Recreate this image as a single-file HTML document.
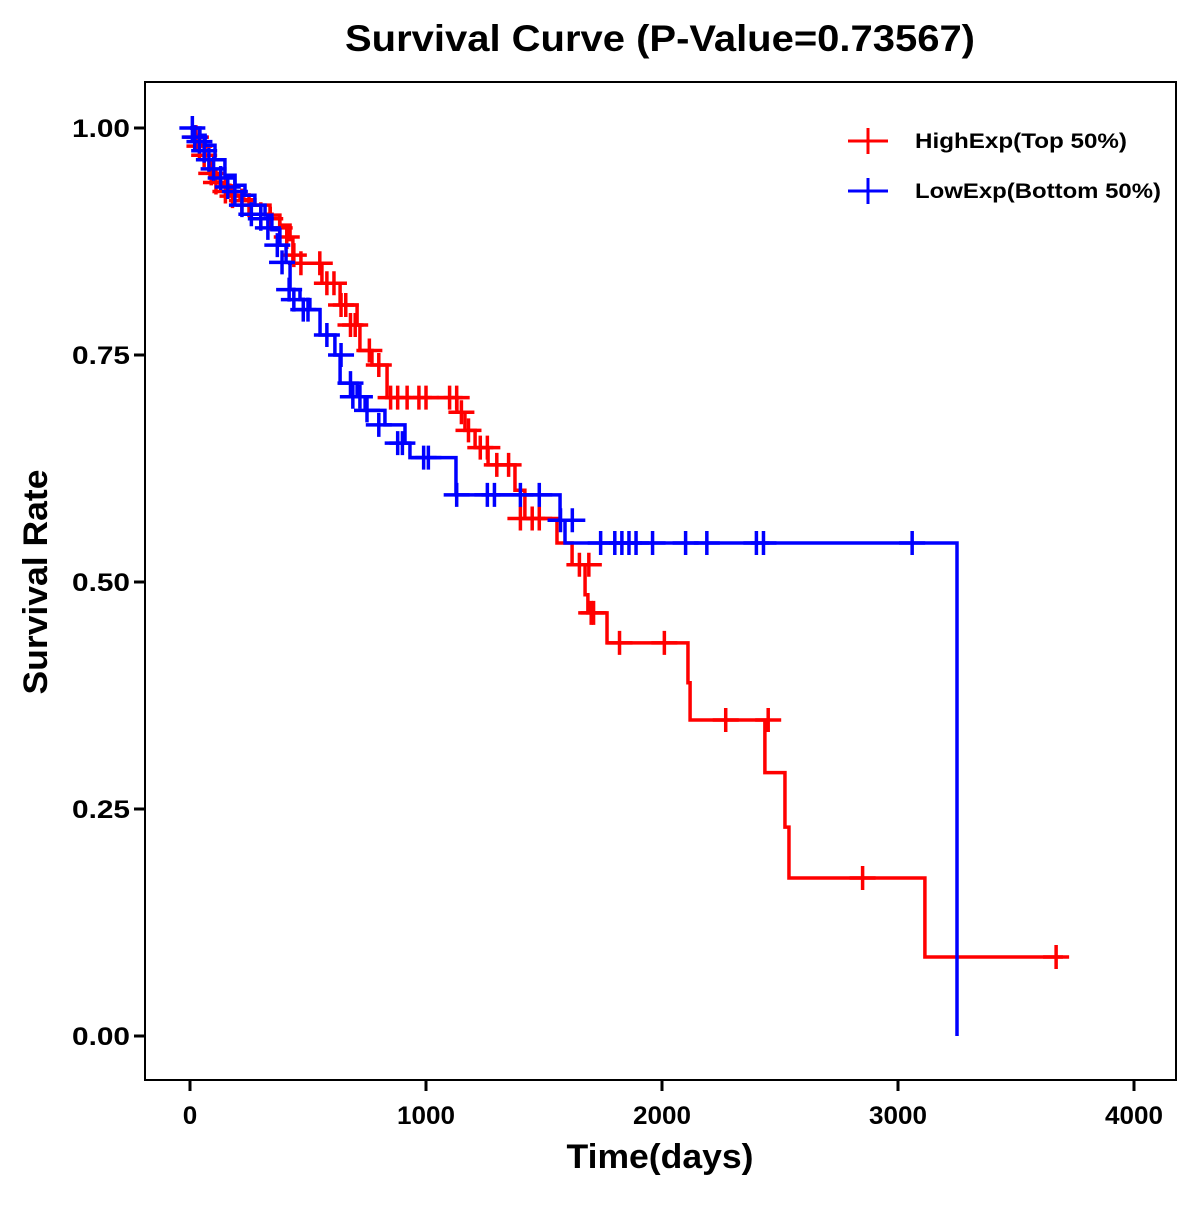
<!DOCTYPE html>
<html><head><meta charset="utf-8"><style>
body{margin:0;background:#fff;}
svg text{font-family:"Liberation Sans",Arial,sans-serif;font-weight:bold;fill:#000;}
</style></head><body>
<svg id="chart" width="1200" height="1200" viewBox="0 0 1200 1200" xmlns="http://www.w3.org/2000/svg">
<rect width="1200" height="1200" fill="#fff"/>
<text x="660" y="51" font-size="37" text-anchor="middle" textLength="630" lengthAdjust="spacingAndGlyphs">Survival Curve (P-Value=0.73567)</text>
<rect x="145" y="82" width="1031" height="998" fill="none" stroke="#000" stroke-width="2"/>
<g id="axes"></g>
<g id="series"></g>
<text x="660" y="1168" font-size="34" text-anchor="middle" textLength="187" lengthAdjust="spacingAndGlyphs">Time(days)</text>
<text transform="translate(47,582) rotate(-90)" font-size="34" text-anchor="middle" textLength="225" lengthAdjust="spacingAndGlyphs">Survival Rate</text>
<g>
<g>
<line x1="848" y1="141" x2="888" y2="141" stroke="#ff0000" stroke-width="3"/>
<line x1="868" y1="128" x2="868" y2="154" stroke="#ff0000" stroke-width="3"/>
<text x="915" y="148" font-size="21" textLength="212" lengthAdjust="spacingAndGlyphs">HighExp(Top 50%)</text>
</g>
<g>
<line x1="848" y1="191" x2="888" y2="191" stroke="#0000ff" stroke-width="3"/>
<line x1="868" y1="178" x2="868" y2="204" stroke="#0000ff" stroke-width="3"/>
<text x="915" y="198" font-size="21" textLength="246" lengthAdjust="spacingAndGlyphs">LowExp(Bottom 50%)</text>
</g>
</g>
</svg>
<script>
const xTicks=[0,1000,2000,3000,4000];
const yTicks=[0,0.25,0.5,0.75,1.0];
const yTickLabels=["0.00","0.25","0.50","0.75","1.00"];
const highTimes=[0,21,42,64,85,127,169,212,275,339,381,424,436,559,636,708,720,771,835,1131,1165,1208,1263,1377,1419,1555,1619,1674,1686,1767,2110,2119,2436,2521,2538,3114];
const highSurv=[1,0.992,0.981,0.965,0.948,0.937,0.926,0.921,0.915,0.904,0.893,0.877,0.851,0.829,0.805,0.783,0.755,0.739,0.703,0.687,0.667,0.648,0.629,0.601,0.570,0.543,0.519,0.486,0.466,0.433,0.389,0.348,0.290,0.230,0.174,0.087];
const highEnd=3699;
const highCensT=[25,40,60,90,110,150,180,220,250,300,340,380,410,440,470,550,580,610,640,660,680,700,760,800,850,880,920,970,1000,1100,1130,1150,1180,1230,1260,1300,1350,1400,1450,1480,1650,1690,1700,1710,1820,2010,2270,2450,2850,3670];
const highCensS=[0.99,0.98,0.97,0.95,0.94,0.93,0.925,0.92,0.915,0.905,0.9,0.89,0.88,0.86,0.851,0.851,0.829,0.829,0.805,0.805,0.783,0.783,0.755,0.739,0.703,0.703,0.703,0.703,0.703,0.703,0.703,0.687,0.667,0.648,0.648,0.629,0.629,0.570,0.570,0.570,0.519,0.519,0.466,0.466,0.433,0.433,0.348,0.348,0.174,0.087];
const lowTimes=[0,42,64,106,148,191,233,275,318,347,381,407,424,466,508,551,614,636,708,742,826,911,932,1127,1568,1589,3250];
const lowSurv=[1,0.992,0.981,0.965,0.948,0.937,0.926,0.915,0.904,0.888,0.871,0.852,0.822,0.811,0.800,0.772,0.750,0.719,0.704,0.689,0.673,0.653,0.637,0.596,0.568,0.543,0];
const lowEnd=3250;
const lowCensT=[10,20,40,60,80,100,130,160,190,220,260,300,330,370,390,420,440,480,500,580,640,680,690,720,750,800,880,900,990,1010,1130,1260,1290,1400,1480,1570,1620,1740,1800,1830,1860,1890,1960,2100,2190,2400,2430,3060];
const lowCensS=[1.0,0.99,0.985,0.975,0.965,0.955,0.945,0.935,0.93,0.915,0.905,0.9,0.89,0.871,0.852,0.822,0.811,0.8,0.8,0.772,0.75,0.719,0.704,0.704,0.689,0.673,0.653,0.653,0.637,0.637,0.596,0.596,0.596,0.596,0.596,0.568,0.568,0.543,0.543,0.543,0.543,0.543,0.543,0.543,0.543,0.543,0.543,0.543];

const X=t=>190+t*0.236;
const Y=s=>1036-s*908;
const NS="http://www.w3.org/2000/svg";
function mk(tag,attrs,parent){const e=document.createElementNS(NS,tag);for(const k in attrs)e.setAttribute(k,attrs[k]);parent.appendChild(e);return e;}
const axes=document.getElementById('axes');
xTicks.forEach(t=>{
  const l=mk('line',{x1:X(t),x2:X(t),y1:1081,y2:1091,stroke:'#000','stroke-width':3},axes);
  
  
  const s=String(t);
  const tx=mk('text',{x:X(t),y:1124,'font-size':25,'text-anchor':'middle',textLength:s.length*14.5,lengthAdjust:'spacingAndGlyphs'},axes);
  tx.textContent=s;
  
  
});
yTicks.forEach((v,i)=>{
  const l=mk('line',{x1:134,x2:144,y1:Y(v),y2:Y(v),stroke:'#000','stroke-width':3},axes);
  
  
  const tx=mk('text',{x:130,y:Y(v)+9,'font-size':25,'text-anchor':'end',textLength:58,lengthAdjust:'spacingAndGlyphs'},axes);
  tx.textContent=yTickLabels[i];
  
  
});
const series=document.getElementById('series');
function draw(times,surv,end,ct,cs,color,name){
  const g=mk('g',{},series);
  
  
  let d='M'+X(times[0])+','+Y(surv[0]);
  for(let i=1;i<times.length;i++){d+=' H'+X(times[i])+' V'+Y(surv[i]);}
  d+=' H'+X(end);
  const p=mk('path',{d:d,fill:'none',stroke:color,'stroke-width':3.5},g);
  
  
  for(let i=0;i<ct.length;i++){
    const x=X(ct[i]),y=Y(cs[i]);
    const c=mk('path',{d:`M${x-13},${y} H${x+13} M${x},${y-12} V${y+12}`,stroke:color,'stroke-width':3.5,fill:'none'},g);
    
    
  }
}
draw(highTimes,highSurv,highEnd,highCensT,highCensS,'#ff0000','high-exp');
draw(lowTimes,lowSurv,lowEnd,lowCensT,lowCensS,'#0000ff','low-exp');
</script>
</body></html>
